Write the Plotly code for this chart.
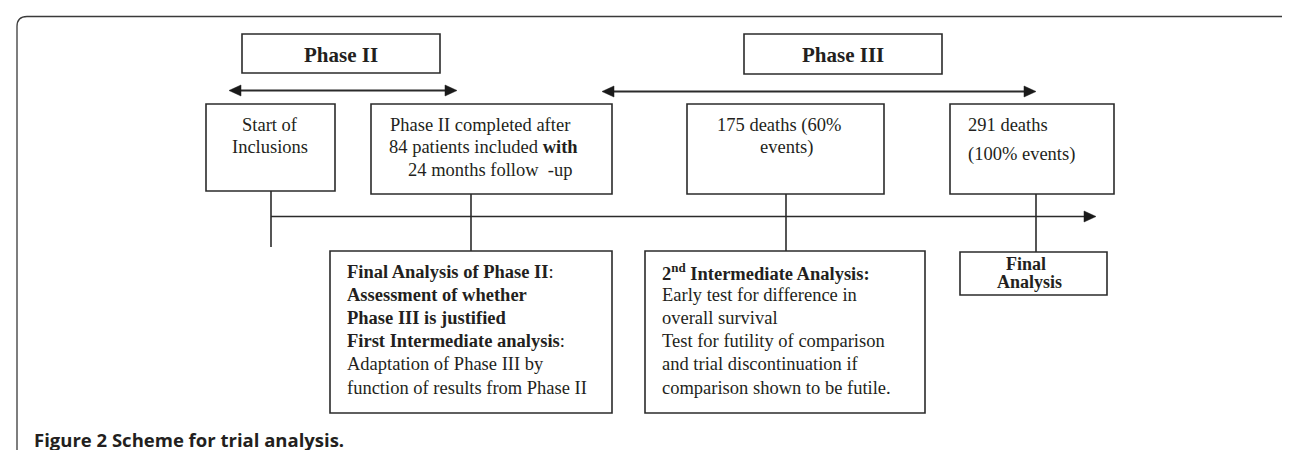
import plotly.graph_objects as go

# ---- text content ----
phase_titles = ["Phase II", "Phase III"]
top_box_lines = [
    ["Start of", "Inclusions"],
    ["Phase II completed after", "84 patients included <b>with</b>", "24 months follow  -up"],
    ["175 deaths (60%", "events)"],
    ["291 deaths", "(100% events)"],
]
bottom_box_lines = [
    ["<b>Final Analysis of Phase II</b>:", "<b>Assessment of whether</b>", "<b>Phase III is justified</b>",
     "<b>First Intermediate analysis</b>:", "Adaptation of Phase III by", "function of results from Phase II"],
    ["<b>2<sup>nd</sup> Intermediate Analysis:</b>", "Early test for difference in", "overall survival",
     "Test for futility of comparison", "and trial discontinuation if", "comparison shown to be futile."],
]
final_box_lines = ["<b>Final</b>", "<b>Analysis</b>"]
caption_bold = "Figure 2"
caption_text = "Scheme for trial analysis."

W, H = 1290, 450
LC = "#2b2b2b"
TC = "#231f20"
SERIF = "Liberation Serif, Times New Roman, serif"

shapes = []
annotations = []


def rect(x0, y0, x1, y1, w=1.6):
    shapes.append(dict(type="rect", x0=x0, y0=y0, x1=x1, y1=y1, xref="x", yref="y",
                       line=dict(color=LC, width=w), fillcolor="rgba(0,0,0,0)"))


def line(x0, y0, x1, y1, w=1.6):
    shapes.append(dict(type="line", x0=x0, y0=y0, x1=x1, y1=y1, xref="x", yref="y",
                       line=dict(color=LC, width=w)))


def head(xt, y, direction, L=12, hh=5.5):
    xb = xt - direction * L
    shapes.append(dict(type="path", path=f"M {xt},{y} L {xb},{y-hh} L {xb},{y+hh} Z",
                       xref="x", yref="y", fillcolor="#1a1a1a", line=dict(color="#1a1a1a", width=0.5)))


def text(x, y, s, size=18.5, anchor="center", color=TC, family=SERIF):
    annotations.append(dict(x=x, y=y, xref="x", yref="y", text=s, showarrow=False,
                            xanchor=anchor, yanchor="middle",
                            font=dict(family=family, size=size, color=color)))


# outer frame (rounded; bottom edge runs just off the image)
r = 10
R = 1291
shapes.append(dict(type="path",
                   path=(f"M {R},40 L {R},{8.5+r} Q {R},8.5 {R-r},8.5 L {9+r},8.5 Q 9,8.5 9,{8.5+r} "
                         f"L 9,{452-r} Q 9,452 {9+r},452 L {R-r},452 Q {R},452 {R},{452-r} L {R},40"),
                   xref="x", yref="y", line=dict(color="#3a3a3a", width=1.3)))

# phase title boxes
rect(234, 26, 432, 65)
text(333, 47, f"<b>{phase_titles[0]}</b>", size=21)
rect(736, 26, 934, 66)
text(835, 47, f"<b>{phase_titles[1]}</b>", size=21)

# phase double arrows
line(226, 82.5, 444, 82.5, w=2)
head(221, 82.5, -1)
head(449, 82.5, 1)
line(599, 83.5, 1023, 83.5, w=2)
head(594, 83.5, -1)
head(1028, 83.5, 1)

# top boxes
rect(198, 96, 327, 183)
text(262, 117, top_box_lines[0][0])
text(262, 139, top_box_lines[0][1])

rect(363, 96, 604, 186)
text(472, 117, top_box_lines[1][0])
text(475, 139, top_box_lines[1][1])
text(482, 162, top_box_lines[1][2])

rect(679, 96, 876, 186)
text(771, 117, top_box_lines[2][0])
text(778, 139, top_box_lines[2][1])

rect(942, 96, 1106, 186)
text(958, 117, top_box_lines[3][0], anchor="left")
text(958, 146, top_box_lines[3][1], anchor="left")

# connectors
line(263, 183, 263, 239)
line(463, 186, 463, 243)
line(778, 186, 778, 243)
line(1028, 186, 1028, 244)

# timeline arrow
line(263, 208.5, 1078, 208.5, w=1.6)
head(1088, 208.5, 1, L=12, hh=5.5)

# bottom boxes
rect(322, 243, 604, 405)
for i, s in enumerate(bottom_box_lines[0]):
    text(337, 263.5 + 23.2 * i, s, anchor="left")

rect(637, 243, 917, 405)
for i, s in enumerate(bottom_box_lines[1]):
    text(652, 263.5 + 23.2 * i, s, anchor="left")

rect(952, 244, 1099, 287)
text(1018, 255.5, final_box_lines[0], size=18)
text(1021, 273.5, final_box_lines[1], size=18)

# caption
annotations.append(dict(x=24, y=431, xref="x", yref="y", showarrow=False, xanchor="left", yanchor="middle",
                        text=f"<b>{caption_bold} {caption_text}</b>",
                        font=dict(family="Open Sans, Noto Sans, sans-serif", size=18.5, color=TC)))

fig = go.Figure()
fig.update_layout(
    width=W, height=H, margin=dict(l=0, r=0, t=0, b=0),
    paper_bgcolor="white", plot_bgcolor="white",
    xaxis=dict(range=[0, W], visible=False, fixedrange=True),
    yaxis=dict(range=[H, 0], visible=False, fixedrange=True),
    shapes=shapes, annotations=annotations, showlegend=False,
)
fig.write_html("out.html", config={"displayModeBar": False})
